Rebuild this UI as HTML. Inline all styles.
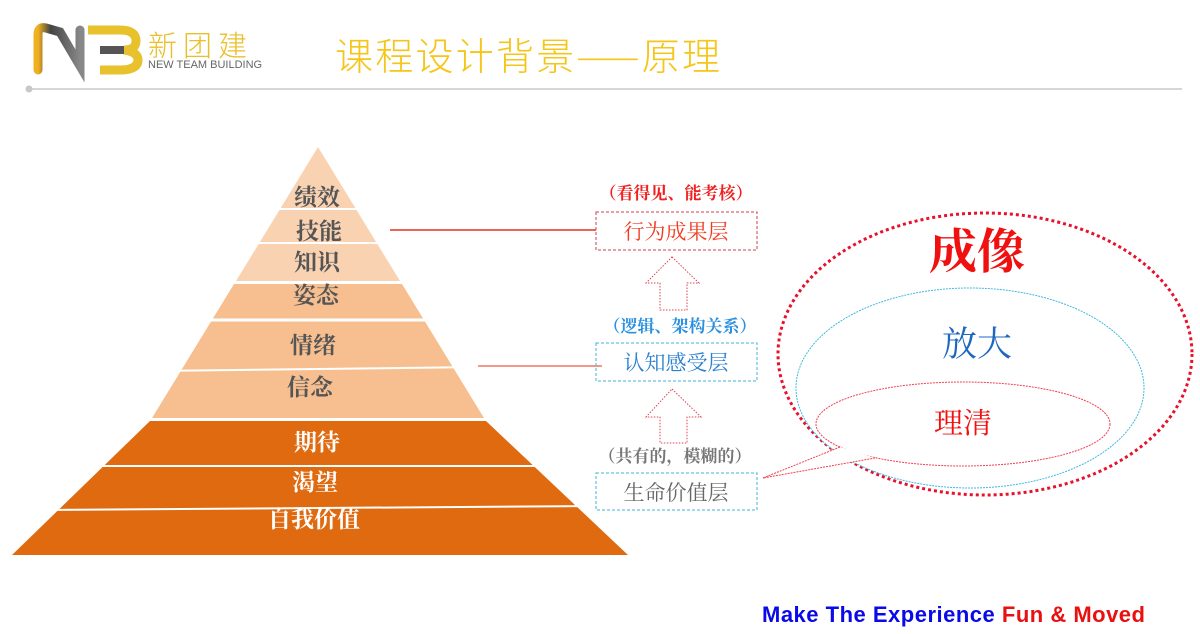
<!DOCTYPE html>
<html><head><meta charset="utf-8"><style>
body{margin:0;width:1200px;height:634px;background:#fff;overflow:hidden;font-family:"Liberation Serif","Noto Serif CJK SC","Noto Sans CJK SC",serif;}
</style></head><body>
<svg width="1200" height="634" viewBox="0 0 1200 634" xmlns="http://www.w3.org/2000/svg" style="position:absolute;left:0;top:0">
<defs><linearGradient id="g" x1="0" x2="1"><stop offset="0" stop-color="#f0b020"/><stop offset="0.3" stop-color="#444"/><stop offset="1" stop-color="#888"/></linearGradient></defs>
<!-- logo -->
<path d="M38 70 V35 Q38 26 46 28 L60 32 L80 66 V30" fill="none" stroke="url(#g)" stroke-width="9" stroke-linecap="round"/>
<path d="M88 30 H120 Q136 30 136 41 Q136 50 124 50 Q138 52 138 60 Q138 70 120 70 H100" fill="none" stroke="#e8c22c" stroke-width="9"/>
<path d="M100 50 H124" stroke="#555" stroke-width="8"/>
<text x="148" y="56" font-family="Noto Sans CJK SC,sans-serif" font-size="29" fill="#e9bf2a" letter-spacing="6" font-weight="300">新团建</text>
<text x="148" y="68" font-family="Liberation Sans,sans-serif" font-size="11" fill="#666">NEW TEAM BUILDING</text>
<text x="335" y="70" font-family="Noto Sans CJK SC,sans-serif" font-size="38" fill="#f5c518" font-weight="300" textLength="385">课程设计背景——原理</text>
<line x1="28" y1="89" x2="1182" y2="89" stroke="#c8c8c8" stroke-width="1.5"/>
<circle cx="29" cy="89" r="3.5" fill="#c8c8c8"/>
<!-- pyramid -->
<polygon points="318,147 400,281 236,281" fill="#f9d2b2"/>
<polygon points="234,284 402,284 484,418 152,418" fill="#f7bf8f"/>
<polygon points="150,421 486,421 628,555 12,555" fill="#e06a10"/>
<g stroke="#fff" stroke-width="2">
<line x1="270" y1="209" x2="366" y2="209"/><line x1="248" y1="243" x2="388" y2="243"/>
<line x1="200" y1="320" x2="448" y2="320" stroke-width="3"/>
<line x1="152" y1="371" x2="480" y2="367"/>
<line x1="70" y1="466" x2="566" y2="466"/><line x1="40" y1="510" x2="600" y2="506"/>
</g>
<g font-size="23" fill="#555" text-anchor="middle" font-weight="bold">
<text x="317" y="205">绩效</text><text x="319" y="239">技能</text><text x="317" y="270">知识</text>
<text x="316" y="303">姿态</text><text x="313" y="353">情绪</text><text x="310" y="395">信念</text>
</g>
<g font-size="23" fill="#fff" text-anchor="middle" font-weight="bold">
<text x="317" y="450">期待</text><text x="315" y="490">渴望</text><text x="314" y="527">自我价值</text>
</g>
<line x1="390" y1="230" x2="596" y2="230" stroke="#e8301a" stroke-width="1.5"/>
<line x1="478" y1="366" x2="602" y2="366" stroke="#e8301a" stroke-width="1"/>
<!-- boxes -->
<g font-size="17" text-anchor="middle" font-weight="bold">
<text x="676" y="199" fill="#f02020">（看得见、能考核）</text>
<text x="680" y="332" fill="#2a90e0">（逻辑、架构关系）</text>
<text x="675" y="462" fill="#777">（共有的，模糊的）</text>
</g>
<rect x="596" y="212" width="161" height="38" fill="none" stroke="#d04050" stroke-dasharray="3,2"/>
<rect x="596" y="343" width="161" height="38" fill="none" stroke="#40b0d8" stroke-dasharray="3,2"/>
<rect x="596" y="473" width="161" height="37" fill="none" stroke="#40b0d8" stroke-dasharray="3,2"/>
<g font-size="21" text-anchor="middle">
<text x="676" y="239" fill="#f03a20">行为成果层</text>
<text x="676" y="370" fill="#2a80d0">认知感受层</text>
<text x="676" y="500" fill="#666">生命价值层</text>
</g>
<g fill="none" stroke="#e04050" stroke-dasharray="1.5,1.5" stroke-width="1">
<path d="M672 257 L699 283 L687 283 L687 310 L660 310 L660 283 L646 283 Z"/>
<path d="M672 389 L701 417 L687 417 L687 443 L660 443 L660 417 L646 417 Z"/>
</g>
<!-- ellipses -->
<ellipse cx="985" cy="354" rx="207" ry="141" fill="none" stroke="#e8102a" stroke-width="3" stroke-dasharray="3,3"/>
<ellipse cx="970" cy="388" rx="174" ry="100" fill="#fff" stroke="#40b8e0" stroke-width="1" stroke-dasharray="2,1"/>
<ellipse cx="963" cy="424" rx="147" ry="42" fill="#fff" stroke="#f04050" stroke-width="1" stroke-dasharray="2,1"/>
<path d="M840 447 L763 478 L875 458" fill="#fff" stroke="#f04050" stroke-width="1" stroke-dasharray="2,1"/>
<text x="977" y="268" font-size="48" font-weight="bold" fill="#f01010" text-anchor="middle">成像</text>
<text x="977" y="356" font-size="35" fill="#1f68c0" text-anchor="middle">放大</text>
<text x="963" y="433" font-size="29" fill="#f01010" text-anchor="middle">理清</text>
<text x="762" y="622" font-family="Liberation Sans,sans-serif" font-size="22" font-weight="bold" fill="#0a0ae8" textLength="383">Make The Experience <tspan fill="#e81010">Fun &amp; Moved</tspan></text>
</svg>
</body></html>
